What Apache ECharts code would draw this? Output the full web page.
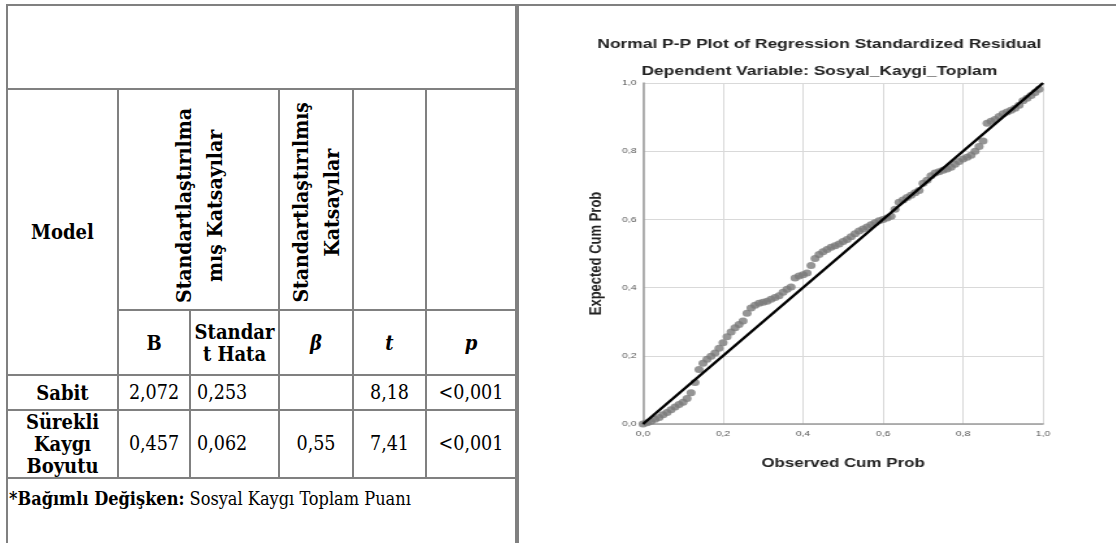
<!DOCTYPE html>
<html>
<head>
<meta charset="utf-8">
<script src="https://cdn.jsdelivr.net/npm/echarts@6/dist/echarts.min.js"></script>
<style>
  html, body { margin:0; padding:0; background:#fff; width:1116px; height:543px; overflow:hidden; }
  #tbl { position:absolute; left:6px; top:4px; border-collapse:collapse; table-layout:fixed;
         font-family:"DejaVu Serif Condensed","DejaVu Serif",serif; font-stretch:condensed; font-size:19.5px; color:#000; }
  #tbl td { border:2px solid #808080; padding:0; text-align:center; vertical-align:middle; line-height:22px; }
  #tbl td.b { font-weight:bold; font-size:20px; }
  #tbl td.bi { font-weight:bold; font-style:italic; font-size:20px; }
  #tbl td.rot { vertical-align:bottom; padding-bottom:1px; }
  #tbl td.rot div { display:inline-block; writing-mode:vertical-rl; transform:rotate(180deg); text-align:center; font-weight:bold; font-size:21px; line-height:31px; }
  #tbl td.foot { text-align:left; vertical-align:top; padding:9px 0 0 1px; border-bottom:none; font-size:18px; }
  #tbl td.left { text-align:left; padding-left:6px; }
  #panel { position:absolute; left:517px; top:4px; width:599px; height:539px; border-top:2px solid #808080; border-left:2px solid #808080; }
  #chart { position:absolute; left:519px; top:6px; width:459px; height:537px; transform:scaleX(1.3); transform-origin:0 0; }
</style>
</head>
<body>
<table id="tbl">
  <colgroup>
    <col style="width:111px"><col style="width:72px"><col style="width:89px">
    <col style="width:74px"><col style="width:73px"><col style="width:90px">
  </colgroup>
  <tbody id="tb"></tbody>
</table>
<div id="panel"></div>
<div id="chart"></div>
<script>
// ---------- table data ----------
const modelHeader = "Model";
const unstdHeader = ["Standartlaştırılma", "mış Katsayılar"];
const stdHeader = ["Standartlaştırılmış", "Katsayılar"];
const subHeaders = ["B", "Standar<br>t Hata", "β", "t", "p"];
const rowLabels = ["Sabit", "Sürekli<br>Kaygı<br>Boyutu"];
const bValues = ["2,072", "0,457"];
const seValues = ["0,253", "0,062"];
const betaValues = ["", "0,55"];
const tValues = ["8,18", "7,41"];
const pValues = ["<0,001", "<0,001"];
const footBold = "*Bağımlı Değişken:";
const footText = " Sosyal Kaygı Toplam Puanı";

// ---------- chart data ----------
const chartTitle = "Normal P-P Plot of Regression Standardized Residual";
const chartSubtitle = "Dependent Variable: Sosyal_Kaygi_Toplam";
const xAxisName = "Observed Cum Prob";
const yAxisName = "Expected Cum Prob";
const tickLabels = ["0,0", "0,2", "0,4", "0,6", "0,8", "1,0"];
const observed = [
  0.00,0.01,0.02,0.03,0.04,0.05,0.06,0.07,0.08,0.09,
  0.10,0.11,0.12,0.13,0.14,0.15,0.16,0.17,0.18,0.19,
  0.20,0.21,0.22,0.23,0.24,0.25,0.26,0.27,0.28,0.29,
  0.30,0.31,0.32,0.33,0.34,0.35,0.36,0.37,0.38,0.39,
  0.40,0.41,0.42,0.43,0.44,0.45,0.46,0.47,0.48,0.49,
  0.50,0.51,0.52,0.53,0.54,0.55,0.56,0.57,0.58,0.59,
  0.60,0.61,0.62,0.63,0.64,0.65,0.66,0.67,0.68,0.69,
  0.70,0.71,0.72,0.73,0.74,0.75,0.76,0.77,0.78,0.79,
  0.80,0.81,0.82,0.83,0.84,0.85,0.86,0.87,0.88,0.89,
  0.90,0.91,0.92,0.93,0.94,0.95,0.96,0.97,0.98,0.99
];
const expected = [
  0.000,0.004,0.008,0.014,0.019,0.027,0.034,0.042,0.050,0.057,
  0.064,0.075,0.092,0.122,0.160,0.178,0.190,0.199,0.208,0.222,
  0.238,0.256,0.270,0.282,0.292,0.302,0.325,0.340,0.348,0.354,
  0.357,0.360,0.366,0.371,0.376,0.386,0.395,0.402,0.428,0.434,
  0.438,0.443,0.465,0.485,0.497,0.505,0.512,0.518,0.523,0.528,
  0.535,0.541,0.549,0.558,0.566,0.572,0.578,0.584,0.590,0.596,
  0.600,0.604,0.609,0.630,0.650,0.657,0.664,0.671,0.678,0.685,
  0.706,0.715,0.728,0.736,0.740,0.744,0.748,0.753,0.762,0.770,
  0.777,0.782,0.788,0.800,0.814,0.830,0.882,0.888,0.893,0.902,
  0.910,0.915,0.920,0.926,0.935,0.948,0.955,0.963,0.972,0.982
];
const refLineX = [0, 1];
const refLineY = [0, 1];

// ---------- build table ----------
let html = '';
html += '<tr style="height:84px"><td colspan="6"></td></tr>';
html += '<tr style="height:221px"><td rowspan="2" class="b">' + modelHeader + '</td>' +
        '<td colspan="2" class="rot"><div>' + unstdHeader.join('<br>') + '</div></td>' +
        '<td class="rot"><div>' + stdHeader.join('<br>') + '</div></td><td></td><td></td></tr>';
html += '<tr style="height:65px"><td class="b">' + subHeaders[0] + '</td><td class="b">' + subHeaders[1] +
        '</td><td class="bi">' + subHeaders[2] + '</td><td class="bi">' + subHeaders[3] +
        '</td><td class="bi">' + subHeaders[4] + '</td></tr>';
const rowHeights = [35, 68];
for (let i = 0; i < rowLabels.length; i++) {
  html += '<tr style="height:' + rowHeights[i] + 'px"><td class="b">' + rowLabels[i] + '</td><td>' + bValues[i] +
          '</td><td class="left">' + seValues[i] + '</td><td>' + betaValues[i] + '</td><td>' + tValues[i] +
          '</td><td>' + pValues[i].replace('<', '&lt;') + '</td></tr>';
}
html += '<tr style="height:70px"><td colspan="6" class="foot"><b>' + footBold + '</b>' + footText + '</td></tr>';
document.getElementById('tb').innerHTML = html;

// ---------- build chart ----------
const chart = echarts.init(document.getElementById('chart'), null, { renderer: 'canvas' });
const pts = observed.map((x, i) => [x, expected[i]]);
const line = refLineX.map((x, i) => [x, refLineY[i]]);
const fmt = v => tickLabels[Math.round(v * 5)];
const axisCommon = {
  type: 'value', min: 0, max: 1, interval: 0.2,
  axisLine: { show: true, lineStyle: { color: '#9a9a9a', width: 1.5 } },
  axisTick: { show: false },
  splitLine: { show: true, lineStyle: { color: '#d9d9d9', width: 1 } },
  axisLabel: { fontSize: 8, color: '#555', fontFamily: 'Liberation Sans', formatter: fmt },
  nameLocation: 'middle',
  nameTextStyle: { fontSize: 13, fontWeight: 'bold', color: '#222', fontFamily: 'Liberation Sans' }
};
chart.setOption({
  animation: false,
  title: [
    { text: chartTitle, left: 226, top: 27, textAlign: 'center',
      textStyle: { fontSize: 13.4, fontWeight: 'bold', color: '#222', fontFamily: 'Liberation Sans' } },
    { text: chartSubtitle, left: 226, top: 54, textAlign: 'center',
      textStyle: { fontSize: 13.4, fontWeight: 'bold', color: '#222', fontFamily: 'Liberation Sans' } }
  ],
  grid: { left: 95.4, top: 77, width: 307.7, height: 341, containLabel: false },
  xAxis: Object.assign({}, axisCommon, {
    name: xAxisName, nameGap: 33,
    axisLabel: Object.assign({}, axisCommon.axisLabel, { margin: 6 })
  }),
  yAxis: Object.assign({}, axisCommon, {
    name: yAxisName, nameGap: 29, nameRotate: 90,
    axisLabel: Object.assign({}, axisCommon.axisLabel, { margin: 5 })
  }),
  series: [
    { type: 'scatter', data: pts, symbol: 'circle', symbolSize: 7,
      itemStyle: { color: '#7a7a7a' }, z: 2 },
    { type: 'line', data: line, symbol: 'none', lineStyle: { color: '#000', width: 2.4 }, z: 3 }
  ]
});
</script>
</body>
</html>
